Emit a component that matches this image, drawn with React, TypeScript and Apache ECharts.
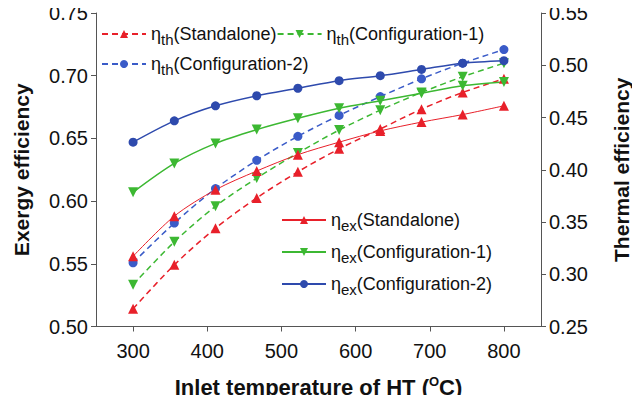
import React, { useEffect, useRef } from 'react';
import * as echarts from 'echarts';

const temps = [300, 355.6, 411.1, 466.7, 522.2, 577.8, 633.3, 688.9, 744.4, 800];
const exStandalone = [0.556, 0.588, 0.609, 0.624, 0.637, 0.647, 0.656, 0.663, 0.669, 0.676];
const exConfig1 = [0.607, 0.630, 0.646, 0.657, 0.666, 0.674, 0.680, 0.686, 0.692, 0.695];
const exConfig2 = [0.647, 0.664, 0.676, 0.684, 0.690, 0.696, 0.700, 0.705, 0.710, 0.712];
const thStandalone = [0.267, 0.309, 0.344, 0.373, 0.398, 0.420, 0.439, 0.458, 0.474, 0.487];
const thConfig1 = [0.290, 0.331, 0.365, 0.392, 0.416, 0.438, 0.457, 0.474, 0.489, 0.502];
const thConfig2 = [0.311, 0.349, 0.382, 0.409, 0.432, 0.452, 0.470, 0.487, 0.502, 0.515];
const xTicks = [300, 400, 500, 600, 700, 800];

const RED = '#e8202a';
const GREEN = '#3cb832';
const BLUE = '#2e4aad';
const BLUE_D = '#3a5bc8';
const FONT = 'Liberation Sans, Arial, sans-serif';

const rich = {
  a: { fontSize: 18, fontFamily: FONT, color: '#111' },
  s: { fontSize: 15, fontFamily: FONT, color: '#111', padding: [11, 0, 0, 0] },
};

const names: Record<string, [string, string]> = {
  thS: ['th', '(Standalone)'],
  th1: ['th', '(Configuration-1)'],
  th2: ['th', '(Configuration-2)'],
  exS: ['ex', '(Standalone)'],
  ex1: ['ex', '(Configuration-1)'],
  ex2: ['ex', '(Configuration-2)'],
};

const App: React.FC = () => {
  const ref = useRef<HTMLDivElement>(null);

  useEffect(() => {
    if (!ref.current) return;
    const chart = echarts.init(ref.current, undefined, { renderer: 'svg' });

    const pts = (ys: number[]) => temps.map((t, i) => [t, ys[i]]);
    const line = (id: string, ys: number[], color: string, symbol: string, dashed: boolean, yAxisIndex: number, width = 1.5) => ({
      name: id,
      type: 'line',
      yAxisIndex,
      data: pts(ys),
      smooth: 0.3,
      symbol,
      symbolSize: symbol === 'circle' ? 9 : 10,
      lineStyle: { color, width, type: dashed ? [6, 4] : 'solid' },
      itemStyle: { color },
    });
    const fmt = (n: string) => `{a|η}{s|${names[n][0]}}{a|${names[n][1]}}`;
    const legendBase = {
      itemWidth: 44,
      itemHeight: 10,
      itemGap: 0,
      formatter: fmt,
      textStyle: { rich },
    };
    const tickFont = { fontSize: 20, fontFamily: FONT, color: '#111' };
    const nameFont = { fontSize: 21, fontWeight: 'bold', fontFamily: FONT, color: '#111' };

    chart.setOption({
      animation: false,
      grid: { left: 96, right: 97, top: 13, bottom: 76 },
      legend: [
        { ...legendBase, data: ['thS', 'th1'], left: 96, top: 20, orient: 'horizontal' },
        { ...legendBase, data: ['th2'], left: 96, top: 50 },
        { ...legendBase, data: ['exS', 'ex1', 'ex2'], left: 276, top: 206, orient: 'vertical', itemGap: 10 },
      ],
      xAxis: {
        type: 'value',
        min: 250,
        max: 850,
        name: 'Inlet temperature of HT ({sup|O}C)',
        nameLocation: 'middle',
        nameGap: 48,
        nameTextStyle: {
          ...nameFont,
          fontSize: 22,
          rich: { sup: { fontSize: 13, fontWeight: 'bold', fontFamily: FONT, color: '#111', padding: [0, 0, 12, 0] } },
        },
        axisLine: { lineStyle: { color: '#555' } },
        axisTick: { customValues: xTicks, length: 5, lineStyle: { color: '#555' } },
        axisLabel: { customValues: xTicks, ...tickFont, margin: 14 },
        splitLine: { show: false },
      },
      yAxis: [
        {
          type: 'value',
          min: 0.5,
          max: 0.75,
          interval: 0.05,
          name: 'Exergy efficiency',
          nameLocation: 'middle',
          nameGap: 64,
          nameTextStyle: nameFont,
          axisLine: { show: true, lineStyle: { color: '#555' } },
          axisTick: { show: true, length: 5, lineStyle: { color: '#555' } },
          axisLabel: { ...tickFont, formatter: (v: number) => v.toFixed(2) },
          splitLine: { show: false },
        },
        {
          type: 'value',
          min: 0.25,
          max: 0.55,
          interval: 0.05,
          name: 'Thermal efficiency',
          nameLocation: 'middle',
          nameGap: 70,
          nameRotate: 90,
          nameTextStyle: nameFont,
          axisLine: { show: true, lineStyle: { color: '#555' } },
          axisTick: { show: true, length: 5, lineStyle: { color: '#555' } },
          axisLabel: { ...tickFont, formatter: (v: number) => v.toFixed(2) },
          splitLine: { show: false },
        },
      ],
      series: [
        line('thS', thStandalone, RED, 'triangle', true, 1),
        line('th1', thConfig1, GREEN, 'triangle', true, 1),
        line('th2', thConfig2, BLUE_D, 'circle', true, 1),
        line('exS', exStandalone, RED, 'triangle', false, 0, 1),
        line('ex1', exConfig1, GREEN, 'triangle', false, 0),
        line('ex2', exConfig2, BLUE, 'circle', false, 0),
      ].map((s) => (s.name === 'th1' || s.name === 'ex1' ? { ...s, symbolRotate: 180 } : s)),
    });

    return () => chart.dispose();
  }, []);

  return <div ref={ref} style={{ width: 640, height: 403, margin: -8, background: '#fff' }} />;
};

export default App;
